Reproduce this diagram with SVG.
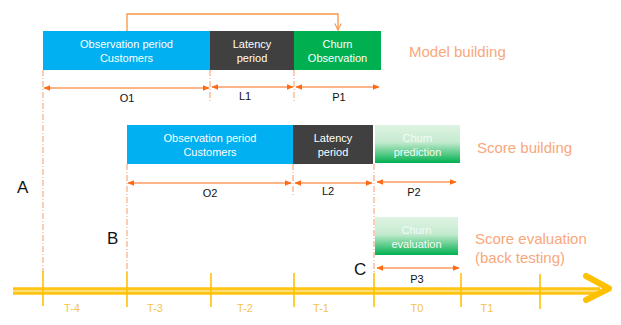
<svg xmlns="http://www.w3.org/2000/svg" width="621" height="325" viewBox="0 0 621 325">
<style>
.bt{font-family:"Liberation Sans",Arial,sans-serif;font-size:11px;fill:#ffffff;text-anchor:middle}
.gt{font-family:"Liberation Sans",Arial,sans-serif;font-size:11px;fill:#f4fbf6;text-anchor:middle}
.lb{font-family:"Liberation Sans",Arial,sans-serif;font-size:11px;fill:#111;text-anchor:middle}
.ph{font-family:"Liberation Sans",Arial,sans-serif;font-size:15px;fill:#f9a77b}
.big{font-family:"Liberation Sans",Arial,sans-serif;font-size:17px;fill:#111}
.tl{font-family:"Liberation Sans",Arial,sans-serif;font-size:11px;fill:#f7c34a;text-anchor:middle}
.dim{stroke:#ff6a13;stroke-width:1.2;fill:none;marker-start:url(#ah);marker-end:url(#ah)}
.dd{stroke:#f59a6a;stroke-width:1;stroke-dasharray:6,2,1,2;fill:none}
.tick{stroke:#ffc000;stroke-width:1.6}
</style>
<defs>
<marker id="ah" viewBox="0 0 10 10" refX="9" refY="5" markerWidth="7" markerHeight="7" orient="auto-start-reverse" markerUnits="userSpaceOnUse">
<path d="M0,1 L10,5 L0,9 Z" fill="#ff6a13"/>
</marker>
<marker id="open" viewBox="0 0 10 10" refX="9" refY="5" markerWidth="8" markerHeight="8" orient="auto" markerUnits="userSpaceOnUse">
<path d="M1,1 L9,5 L1,9" fill="none" stroke="#f79646" stroke-width="1.4"/>
</marker>
<linearGradient id="gg" x1="0" y1="0" x2="0" y2="1">
<stop offset="0" stop-color="#dff3e4"/>
<stop offset="0.45" stop-color="#c5ebcf"/>
<stop offset="1" stop-color="#00b050"/>
</linearGradient>
</defs>

<g id="guides">
<line class="dd" x1="43" y1="70" x2="43" y2="272"/>
<line class="dd" x1="210" y1="70" x2="210" y2="103"/>
<line class="dd" x1="294" y1="70" x2="294" y2="103"/>
<line class="dd" x1="127" y1="164" x2="127" y2="272"/>
<line class="dd" x1="293" y1="164" x2="293" y2="196"/>
<line class="dd" x1="374" y1="164" x2="374" y2="272"/>
</g>

<g id="timeline">
<line x1="13" y1="291" x2="600" y2="291" stroke="#ffd24d" stroke-width="8"/>
<line x1="13" y1="289" x2="600" y2="289" stroke="#ffc000" stroke-width="1.3"/>
<line x1="13" y1="293" x2="600" y2="293" stroke="#ffc000" stroke-width="1.3"/>
<line x1="13" y1="291" x2="600" y2="291" stroke="#ffe9a8" stroke-width="1.2"/>
<path d="M586,276 L609,288.5 L586,300" fill="none" stroke="#ffc000" stroke-width="6" stroke-linecap="round" stroke-linejoin="round"/>
<line class="tick" x1="43" y1="271" x2="43" y2="306"/>
<line class="tick" x1="127" y1="272" x2="127" y2="307"/>
<line class="tick" x1="211" y1="273" x2="211" y2="307"/>
<line class="tick" x1="294" y1="273" x2="294" y2="307"/>
<line class="tick" x1="374" y1="273" x2="374" y2="307"/>
<line class="tick" x1="461" y1="273" x2="461" y2="307"/>
<line class="tick" x1="540" y1="274" x2="540" y2="309"/>
<text class="tl" x="72" y="312">T-4</text>
<text class="tl" x="155" y="312">T-3</text>
<text class="tl" x="245" y="312">T-2</text>
<text class="tl" x="321" y="312">T-1</text>
<text class="tl" x="417" y="312">T0</text>
<text class="tl" x="487" y="312">T1</text>
</g>

<g id="obs1">
<rect x="43" y="31" width="167" height="39" fill="#00b0f0"/>
<text class="bt" x="126.5" y="48">Observation period</text>
<text class="bt" x="126.5" y="62">Customers</text>
</g>
<g id="lat1">
<rect x="210" y="31" width="84" height="39" fill="#404040"/>
<text class="bt" x="252" y="48">Latency</text>
<text class="bt" x="252" y="62">period</text>
</g>
<g id="churnobs">
<rect x="294" y="31" width="87" height="39" fill="#00b050"/>
<text class="bt" x="337.5" y="48">Churn</text>
<text class="bt" x="337.5" y="62">Observation</text>
</g>

<g id="obs2">
<rect x="127" y="125" width="166" height="39" fill="#00b0f0"/>
<text class="bt" x="210" y="142">Observation period</text>
<text class="bt" x="210" y="156">Customers</text>
</g>
<g id="lat2">
<rect x="293" y="125" width="80" height="39" fill="#404040"/>
<text class="bt" x="333" y="142">Latency</text>
<text class="bt" x="333" y="156">period</text>
</g>
<g id="churnpred">
<rect x="375" y="125" width="85" height="38" fill="url(#gg)"/>
<text class="gt" x="417.5" y="142">Churn</text>
<text class="gt" x="417.5" y="156">prediction</text>
</g>
<g id="churneval">
<rect x="375" y="217" width="83" height="38" fill="url(#gg)"/>
<text class="gt" x="416.5" y="234">Churn</text>
<text class="gt" x="416.5" y="248">evaluation</text>
</g>

<g id="connectors">
<path d="M127,31 V14 H338 V30" fill="none" stroke="#f79646" stroke-width="1.3" marker-end="url(#open)"/>
<line class="dim" x1="44" y1="88" x2="209" y2="88"/>
<line class="dim" x1="212" y1="87" x2="293" y2="87"/>
<line class="dim" x1="296" y1="87" x2="379" y2="87"/>
<line class="dim" x1="128" y1="183" x2="291" y2="183"/>
<line class="dim" x1="295" y1="183" x2="372" y2="183"/>
<line class="dim" x1="377" y1="182" x2="456" y2="182"/>
<line class="dim" x1="377" y1="268" x2="459" y2="268"/>
</g>

<g id="labels">
<text class="lb" x="127" y="102">O1</text>
<text class="lb" x="245" y="100">L1</text>
<text class="lb" x="339" y="101">P1</text>
<text class="lb" x="210" y="197">O2</text>
<text class="lb" x="328" y="195">L2</text>
<text class="lb" x="414" y="196">P2</text>
<text class="lb" x="417" y="283">P3</text>
<text class="big" x="17" y="193">A</text>
<text class="big" x="107" y="244">B</text>
<text class="big" x="354" y="275">C</text>
<text class="ph" x="409" y="57">Model building</text>
<text class="ph" x="477" y="153">Score building</text>
<text class="ph" x="475" y="244">Score evaluation</text>
<text class="ph" x="475" y="263">(back testing)</text>
</g>
</svg>
